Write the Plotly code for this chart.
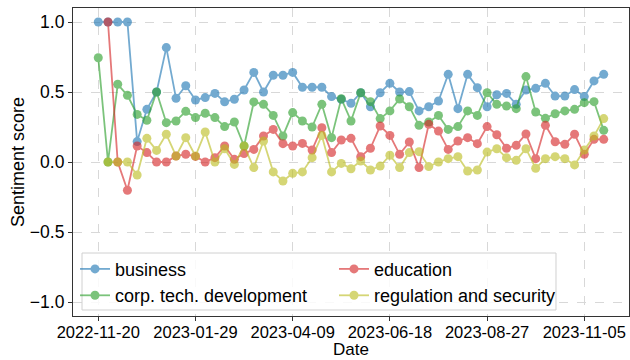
import pandas as pd
import plotly.graph_objects as go

start_date = "2022-11-20"
n_weeks = 53
dates = pd.date_range(start_date, periods=n_weeks, freq="7D")

business = [1.0, 1.0, 1.0, 1.0, 0.146, 0.376, 0.5, 0.817, 0.455, 0.545,
            0.443, 0.46, 0.49, 0.43, 0.448, 0.514, 0.64, 0.5, 0.62, 0.62,
            0.64, 0.534, 0.534, 0.534, 0.467, 0.448, 0.419, 0.495, 0.395, 0.495,
            0.562, 0.5, 0.503, 0.365, 0.395, 0.436, 0.626, 0.381, 0.626, 0.531,
            0.395, 0.48, 0.49, 0.412, 0.514, 0.526, 0.562, 0.471, 0.471, 0.517,
            0.467, 0.579, 0.626]
corp_tech = [0.745, 0.0, 0.555, 0.476, 0.34, 0.298, 0.5, 0.281, 0.293, 0.362,
             0.317, 0.348, 0.317, 0.253, 0.286, 0.114, 0.429, 0.412, 0.333, 0.186,
             0.353, 0.293, 0.25, 0.412, 0.174, 0.452, 0.293, 0.495, 0.431, 0.31,
             0.365, 0.45, 0.395, 0.262, 0.286, 0.333, 0.233, 0.253, 0.365, 0.333,
             0.495, 0.412, 0.4, 0.381, 0.61, 0.357, 0.312, 0.345, 0.365, 0.376,
             0.424, 0.431, 0.226]
education = [None, 1.0, 0.0, -0.202, 0.114, 0.067, 0.0, 0.0, 0.043, 0.055,
             0.04, 0.0, 0.031, 0.114, 0.019, 0.06, 0.09, 0.186, 0.233, 0.131,
             0.114, 0.133, 0.086, 0.245, 0.067, 0.157, 0.169, 0.038, 0.098, 0.257,
             0.19, 0.055, 0.143, -0.04, 0.269, 0.221, 0.09, 0.15, 0.174, 0.131,
             0.253, 0.195, 0.098, 0.119, 0.2, 0.024, 0.262, 0.145, 0.126, 0.198,
             0.055, 0.162, 0.162]
regulation = [None, 0.0, 0.0, 0.0, -0.093, 0.169, 0.083, 0.198, 0.043, 0.174,
              0.043, 0.214, 0.0, 0.095, -0.017, 0.114, -0.04, 0.15, -0.071, -0.136,
              -0.081, -0.071, 0.031, 0.19, -0.071, -0.01, -0.048, 0.007, -0.057, -0.029,
              0.048, -0.04, 0.067, 0.074, -0.033, 0.0, 0.024, 0.038, -0.064, -0.057,
              0.071, 0.095, 0.031, 0.012, 0.095, -0.045, 0.024, 0.038, 0.024, -0.021,
              0.086, 0.186, 0.31]

series_names = ["business", "corp. tech. development", "education", "regulation and security"]
series_values = [business, corp_tech, education, regulation]
series_colors = ["#1f77b4", "#2ca02c", "#d62728", "#bcbd22"]
legend_ranks = [1, 3, 2, 4]

tick_labels = ["2022-11-20", "2023-01-29", "2023-04-09", "2023-06-18", "2023-08-27", "2023-11-05"]
y_ticks = [-1.0, -0.5, 0.0, 0.5, 1.0]
y_tick_text = ["\u22121.0", "\u22120.5", "0.0", "0.5", "1.0"]

fig = go.Figure()
for name, vals, col, rank in zip(series_names, series_values, series_colors, legend_ranks):
    fig.add_trace(go.Scatter(
        x=dates, y=vals, name=name, mode="lines+markers",
        line=dict(color=col, width=1.8),
        marker=dict(color=col, size=9),
        opacity=0.62, legendrank=rank, connectgaps=False,
    ))

pad = pd.Timedelta(days=18.2)
xr = [dates[0] - pad, dates[-1] + pad]

font_family = "Liberation Sans, Arial, sans-serif"
fs = 18
tfs = 17.5
xtfs = 16.5
fig.update_layout(
    width=630, height=360,
    margin=dict(l=73, r=1, t=8, b=44),
    paper_bgcolor="white", plot_bgcolor="white",
    font=dict(family=font_family, size=fs, color="black"),
    showlegend=True,
    legend=dict(
        orientation="h", x=0.0036, y=0.212, xanchor="left", yanchor="top",
        bgcolor="rgba(0,0,0,0)", borderwidth=0,
        entrywidth=214, entrywidthmode="pixels",
        font=dict(size=fs, family=font_family),
        traceorder="normal",
    ),
    shapes=[dict(
        type="rect", xref="paper", yref="paper",
        x0=0.0162, x1=0.8687, y0=0.0195, y1=0.2045,
        fillcolor="rgba(255,255,255,0.85)", line=dict(color="#d0d0d0", width=1),
        layer="above",
    )],
    annotations=[dict(
        text="Date", xref="paper", yref="paper", x=0.5, y=-44 / 308,
        xanchor="center", yanchor="bottom", showarrow=False, yshift=0,
        borderpad=0,
        font=dict(size=17, family=font_family, color="black"),
    )],
)
fig.update_xaxes(
    range=xr, tickvals=list(pd.to_datetime(tick_labels)), ticktext=tick_labels,
    tickfont=dict(size=xtfs),
    showgrid=True, gridcolor="#d8d8d8", griddash="dash", gridwidth=1,
    showline=True, linecolor="#333333", linewidth=1.2, mirror=True,
    ticks="outside", ticklen=4, tickcolor="#333333", ticklabelstandoff=-3,
    zeroline=False, automargin=False,
)
fig.update_yaxes(
    range=[-1.1, 1.1], tickvals=y_ticks, ticktext=y_tick_text,
    tickfont=dict(size=tfs),
    showgrid=True, gridcolor="#d8d8d8", griddash="dash", gridwidth=1,
    showline=True, linecolor="#333333", linewidth=1.2, mirror=True,
    ticks="outside", ticklen=4, tickcolor="#333333",
    title=dict(text="Sentiment score", standoff=0, font=dict(size=fs)),
    zeroline=False, automargin=False,
)
fig.write_html("out.html")
